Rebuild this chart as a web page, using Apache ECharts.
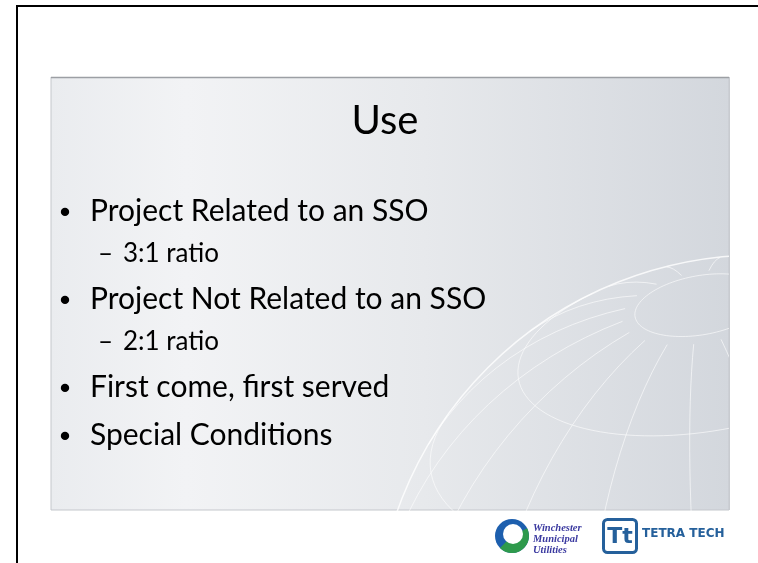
<!DOCTYPE html>
<html>
<head>
<meta charset="utf-8">
<script src="https://cdn.jsdelivr.net/npm/echarts@6/dist/echarts.min.js"></script>
<style>
  html, body { margin: 0; padding: 0; background: #fff; }
  #chart { width: 758px; height: 563px; }
</style>
</head>
<body>
<div id="chart"></div>
<script>
// slide content
const titleText = 'Use'
const bulletTexts = [
  'Project Related to an SSO',
  '3:1 ratio',
  'Project Not Related to an SSO',
  '2:1 ratio',
  'First come, first served',
  'Special Conditions'
]
const bulletLevels = [1, 2, 1, 2, 1, 1]
const utilityLines = ['Winchester', 'Municipal', 'Utilities']
const firmName = 'TETRA TECH'

// globe grid (degrees)
const globeParallels = [80, 60, 40, 20, 0, -20]
const globeMeridians = [0, 20, 40, 60, 80, 100, 120, 140, 160, 180, 200, 220, 240, 260, 280, 300, 320, 340]

const FONT = 'Lato, "Open Sans", sans-serif'
const panel = { x: 51, y: 77, w: 678, h: 433 }

const chart = echarts.init(document.getElementById('chart'), null, { renderer: 'canvas' })

// baselines for the bullet lines
const baselines = []
let y = 222
bulletLevels.forEach((lvl, i) => {
  if (i > 0) {
    const prev = bulletLevels[i - 1]
    if (lvl === 2) y += 41
    else if (prev === 2) y += 47
    else y += 48
  }
  baselines.push(y)
})

const bulletEls = []
bulletTexts.forEach((t, i) => {
  const lvl = bulletLevels[i]
  const size = lvl === 1 ? 30 : 26
  const cy = baselines[i] - size * 0.37
  if (lvl === 1) {
    bulletEls.push({ type: 'circle', shape: { cx: 65, cy: cy + 1, r: 4.2 }, style: { fill: '#000' } })
    bulletEls.push({
      type: 'text', x: 90, y: cy,
      style: { text: t, font: size + 'px ' + FONT, fill: '#000', verticalAlign: 'middle' }
    })
  } else {
    bulletEls.push({
      type: 'text', x: 98, y: cy,
      style: { text: '\u2013', font: size + 'px ' + FONT, fill: '#000', verticalAlign: 'middle' }
    })
    bulletEls.push({
      type: 'text', x: 123, y: cy,
      style: { text: t, font: size + 'px ' + FONT, fill: '#000', verticalAlign: 'middle' }
    })
  }
})

// faint wire globe, orthographic view
const C = [760, 640], R = 385
const poleScr = [700, 300]
const px = (poleScr[0] - C[0]) / R, py = (poleScr[1] - C[1]) / R
const pole = [px, py, Math.sqrt(1 - px * px - py * py)]
const n1 = Math.hypot(pole[1], pole[0])
const e1 = [pole[1] / n1, -pole[0] / n1, 0]
const e2 = [
  pole[1] * e1[2] - pole[2] * e1[1],
  pole[2] * e1[0] - pole[0] * e1[2],
  pole[0] * e1[1] - pole[1] * e1[0]
]
const spherePt = (lat, lon) => {
  const f = lat * Math.PI / 180, l = lon * Math.PI / 180
  const s = Math.sin(f), c = Math.cos(f)
  return [0, 1, 2].map(k => s * pole[k] + c * (Math.cos(l) * e1[k] + Math.sin(l) * e2[k]))
}
const globeStyle = { stroke: 'rgba(255,255,255,0.6)', lineWidth: 1, fill: 'none' }
const globeEls = []
const pushVisible = pts => {
  let seg = []
  pts.forEach(v => {
    if (v[2] >= 0) seg.push([C[0] + R * v[0], C[1] + R * v[1]])
    else {
      if (seg.length > 1) globeEls.push({ type: 'polyline', shape: { points: seg }, style: globeStyle })
      seg = []
    }
  })
  if (seg.length > 1) globeEls.push({ type: 'polyline', shape: { points: seg }, style: globeStyle })
}
globeParallels.forEach(lat => {
  const pts = []
  for (let lon = 0; lon <= 360; lon += 3) pts.push(spherePt(lat, lon))
  pushVisible(pts)
})
globeMeridians.forEach(lon => {
  const pts = []
  for (let lat = -90; lat <= 80; lat += 3) pts.push(spherePt(lat, lon))
  pushVisible(pts)
})
globeEls.push({
  type: 'circle', shape: { cx: C[0], cy: C[1], r: R },
  style: { stroke: 'rgba(255,255,255,0.8)', lineWidth: 1.5, fill: 'none' }
})

const option = {
  backgroundColor: '#ffffff',
  animation: false,
  graphic: {
    elements: [
      // panel
      {
        type: 'rect',
        shape: { x: panel.x, y: panel.y, width: panel.w, height: panel.h },
        style: {
          fill: {
            type: 'linear', x: 0, y: 0, x2: 1, y2: 0,
            colorStops: [
              { offset: 0, color: '#eaecef' },
              { offset: 0.2, color: '#f2f3f5' },
              { offset: 0.55, color: '#e7e9ec' },
              { offset: 1, color: '#d3d7dd' }
            ]
          },
          stroke: '#c4c7cc', lineWidth: 1
        }
      },
      { type: 'group', children: globeEls },
      // white surround hides globe lines outside the panel
      { type: 'rect', shape: { x: 0, y: 0, width: 758, height: panel.y }, style: { fill: '#fff' } },
      { type: 'rect', shape: { x: panel.x + panel.w + 1, y: 0, width: 40, height: 563 }, style: { fill: '#fff' } },
      { type: 'rect', shape: { x: 0, y: panel.y + panel.h + 1, width: 758, height: 60 }, style: { fill: '#fff' } },
      { type: 'rect', shape: { x: 0, y: 0, width: panel.x - 1, height: 563 }, style: { fill: '#fff' } },
      { type: 'line', shape: { x1: panel.x + panel.w + 0.5, y1: panel.y, x2: panel.x + panel.w + 0.5, y2: panel.y + panel.h }, style: { stroke: '#c8cbd0', lineWidth: 1 } },
      // top edge shadow of panel
      { type: 'line', shape: { x1: panel.x, y1: panel.y + 0.5, x2: panel.x + panel.w, y2: panel.y + 0.5 }, style: { stroke: '#9c9fa4', lineWidth: 1.5 } },
      // title
      {
        type: 'text', x: 385, y: 121,
        style: { text: titleText, font: '40px ' + FONT, fill: '#000', align: 'center', verticalAlign: 'middle' }
      },
      { type: 'group', children: bulletEls },
      // slide frame
      { type: 'line', shape: { x1: 17, y1: 6, x2: 758, y2: 6 }, style: { stroke: '#000', lineWidth: 2 } },
      { type: 'line', shape: { x1: 17, y1: 5, x2: 17, y2: 563 }, style: { stroke: '#000', lineWidth: 2 } },
      // utility logo
      { type: 'circle', shape: { cx: 512, cy: 536, r: 17 }, style: { fill: '#1d5fae' } },
      { type: 'sector', shape: { cx: 512, cy: 536, r: 17, r0: 0, startAngle: Math.PI * 1.85, endAngle: Math.PI * 0.75 }, style: { fill: '#2e9a4c' } },
      { type: 'circle', shape: { cx: 513, cy: 534, r: 10 }, style: { fill: '#fff' } },
      {
        type: 'text', x: 533, y: 539,
        style: {
          text: utilityLines.join('\n'), font: 'italic bold 10.5px "Liberation Serif", serif',
          fill: '#3b3aa0', lineHeight: 11, verticalAlign: 'middle'
        }
      },
      // firm logo
      {
        type: 'rect', shape: { x: 603.5, y: 519.5, width: 33, height: 33, r: 4 },
        style: { fill: '#fff', stroke: '#25609b', lineWidth: 3 }
      },
      {
        type: 'text', x: 620, y: 537,
        style: { text: 'Tt', font: 'bold 22px "DejaVu Sans", sans-serif', fill: '#25609b', align: 'center', verticalAlign: 'middle' }
      },
      {
        type: 'text', x: 642, y: 534,
        style: { text: firmName, font: 'bold 12px "DejaVu Sans", sans-serif', fill: '#25609b', verticalAlign: 'middle' }
      }
    ]
  }
}

chart.setOption(option)
window.addEventListener('resize', () => chart.resize())
</script>
</body>
</html>
